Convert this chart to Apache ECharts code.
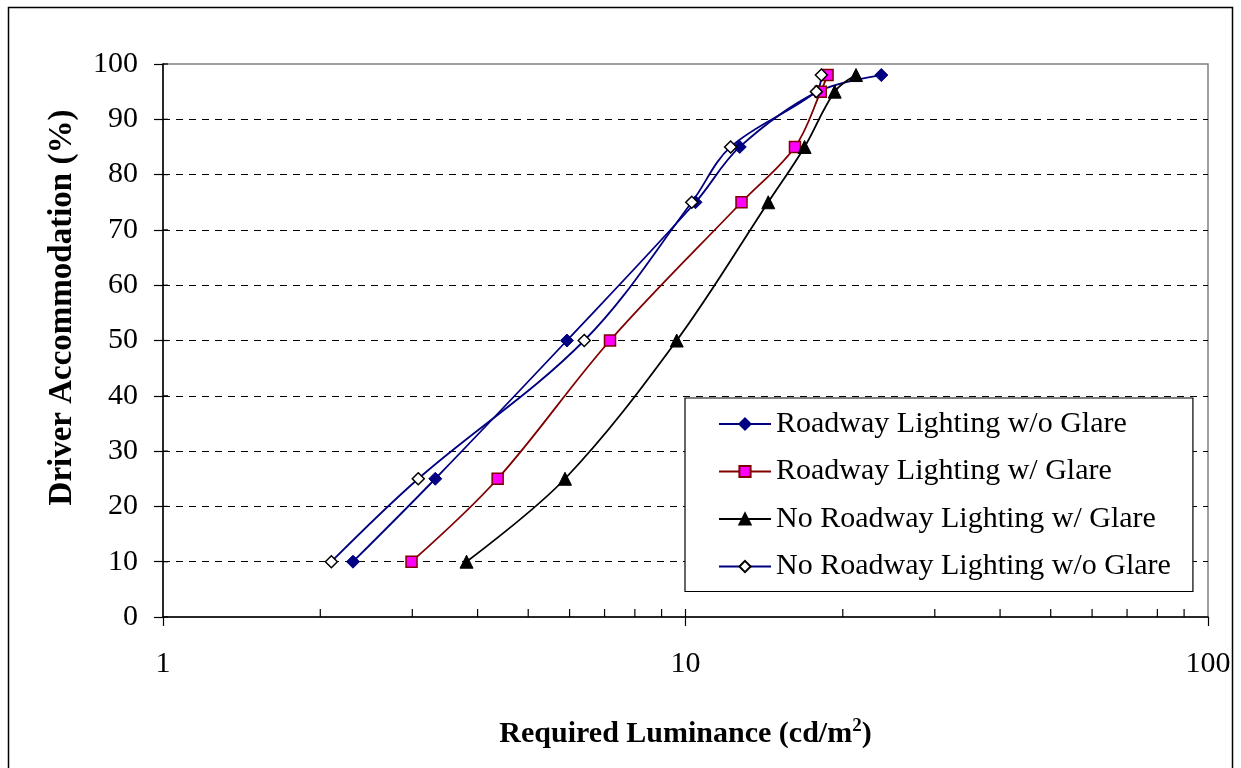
<!DOCTYPE html>
<html>
<head>
<meta charset="utf-8">
<script src="https://cdn.jsdelivr.net/npm/echarts@6/dist/echarts.min.js"></script>
<style>
html,body{margin:0;padding:0;background:#fff;}
#chart{width:1241px;height:768px;}
</style>
</head>
<body>
<div id="chart"></div>
<script>
// Driver accommodation levels (%)
var accommodation = [10, 25, 50, 75, 85, 95, 98];
// Required luminance (cd/m2) per series
var roadwayNoGlare   = [2.31, 3.32, 5.93, 10.45, 12.7, 17.9, 23.7];
var roadwayGlare     = [2.99, 4.37, 7.17, 12.8, 16.2, 18.15, 18.7];
var noRoadwayGlare   = [3.81, 5.88, 9.62, 14.4, 16.9, 19.3, 21.2];
var noRoadwayNoGlare = [2.10, 3.08, 6.40, 10.28, 12.2, 17.8, 18.2];

var seriesNames = [
  'Roadway Lighting w/o Glare',
  'Roadway Lighting w/ Glare',
  'No Roadway Lighting w/ Glare',
  'No Roadway Lighting w/o Glare'
];
var xTickValues = [1, 10, 100];
var xMinorTicks = [2, 3, 4, 5, 6, 7, 8, 9, 10, 20, 30, 40, 50, 60, 70, 80, 90];
var yTickValues = [0, 10, 20, 30, 40, 50, 60, 70, 80, 90, 100];

function pairs(xs) {
  return xs.map(function (x, i) { return [x, accommodation[i]]; });
}

var FONT = "'Times New Roman', 'Liberation Serif', serif";

var chart = echarts.init(document.getElementById('chart'), null, {renderer: 'canvas'});

var option = {
  backgroundColor: '#fff',
  animation: false,
  graphic: [{
    type: 'rect',
    shape: {x: 8.5, y: 7.5, width: 1224, height: 800},
    style: {fill: 'none', stroke: '#000', lineWidth: 1.5},
    silent: true,
    z: -10
  }],
  grid: {
    left: 163, right: 33, top: 64, bottom: 151,
    show: true, borderColor: '#808080', borderWidth: 1.5, backgroundColor: 'transparent'
  },
  legend: {
    data: seriesNames,
    orient: 'vertical',
    left: 685, top: 398,
    padding: [11, 22, 10, 33],
    itemGap: 17.5,
    itemWidth: 52,
    itemHeight: 14,
    backgroundColor: '#fff',
    borderColor: '#000',
    borderWidth: 1.2,
    textStyle: {fontFamily: FONT, fontSize: 30, color: '#000', lineHeight: 30}
  },
  xAxis: {
    type: 'log',
    logBase: 10,
    min: 1,
    max: 100,
    name: '{a|Required Luminance (cd/m}{s|2}{a|)}',
    nameLocation: 'middle',
    nameGap: 100,
    nameTextStyle: {
      rich: {
        a: {fontFamily: FONT, fontSize: 30, fontWeight: 'bold', color: '#000'},
        s: {fontFamily: FONT, fontSize: 19, fontWeight: 'bold', color: '#000', padding: [0, 0, 16, 0]}
      }
    },
    axisLine: {show: true, lineStyle: {color: '#000', width: 1.5}},
    axisTick: {show: true, inside: false, length: 9, lineStyle: {color: '#000', width: 1.2}},
    minorTick: {show: false},
    splitLine: {show: false},
    axisLabel: {
      fontFamily: FONT, fontSize: 30, color: '#000', margin: 32,
      formatter: function (v) { return xTickValues.indexOf(Math.round(v)) >= 0 ? String(Math.round(v)) : ''; }
    }
  },
  yAxis: {
    type: 'value',
    min: 0,
    max: 100,
    interval: 10,
    name: 'Driver Accommodation (%)',
    nameLocation: 'middle',
    nameGap: 84,
    nameTextStyle: {fontFamily: FONT, fontSize: 33, fontWeight: 'bold', color: '#000', padding: [0, 0, 0, 66]},
    axisLine: {show: true, lineStyle: {color: '#000', width: 1.5}},
    axisTick: {show: true, inside: false, length: 9, lineStyle: {color: '#000', width: 1.2}},
    axisLabel: {fontFamily: FONT, fontSize: 30, color: '#000', margin: 25},
    splitLine: {show: true, showMinLine: false, showMaxLine: false, lineStyle: {color: '#000', type: [7, 6], width: 1}}
  },
  series: [
    {
      name: seriesNames[0], type: 'line', smooth: 0.35,
      data: pairs(roadwayNoGlare),
      symbol: 'diamond', symbolSize: 13,
      lineStyle: {color: '#000080', width: 1.8},
      itemStyle: {color: '#000080', borderColor: '#000080', borderWidth: 1}
    },
    {
      name: seriesNames[1], type: 'line', smooth: 0.35,
      data: pairs(roadwayGlare),
      symbol: 'rect', symbolSize: 11,
      lineStyle: {color: '#800000', width: 1.8},
      itemStyle: {color: '#FF00FF', borderColor: '#800000', borderWidth: 1.5}
    },
    {
      name: seriesNames[2], type: 'line', smooth: 0.35,
      data: pairs(noRoadwayGlare),
      symbol: 'triangle', symbolSize: 13,
      lineStyle: {color: '#000', width: 1.8},
      itemStyle: {color: '#000', borderColor: '#000', borderWidth: 1}
    },
    {
      name: seriesNames[3], type: 'line', smooth: 0.35,
      data: pairs(noRoadwayNoGlare),
      symbol: 'diamond', symbolSize: 12,
      lineStyle: {color: '#000080', width: 1.8},
      itemStyle: {color: '#fff', borderColor: '#000', borderWidth: 1.5}
    },
    {
      name: 'xInnerTicks', type: 'custom', silent: true, z: 5,
      data: xMinorTicks.map(function (v) { return [v, 0]; }),
      renderItem: function (params, api) {
        var p = api.coord([api.value(0), 0]);
        return {type: 'line', shape: {x1: p[0], y1: p[1], x2: p[0], y2: p[1] - 8},
                style: {stroke: '#000', lineWidth: 1.2}};
      }
    },
    {
      name: 'yInnerTicks', type: 'custom', silent: true, z: 5,
      data: yTickValues.map(function (v) { return [1, v]; }),
      renderItem: function (params, api) {
        var p = api.coord([1, api.value(1)]);
        return {type: 'line', shape: {x1: p[0], y1: p[1], x2: p[0] + 5, y2: p[1]},
                style: {stroke: '#000', lineWidth: 1.2}};
      }
    }
  ]
};
chart.setOption(option);
</script>
</body>
</html>
